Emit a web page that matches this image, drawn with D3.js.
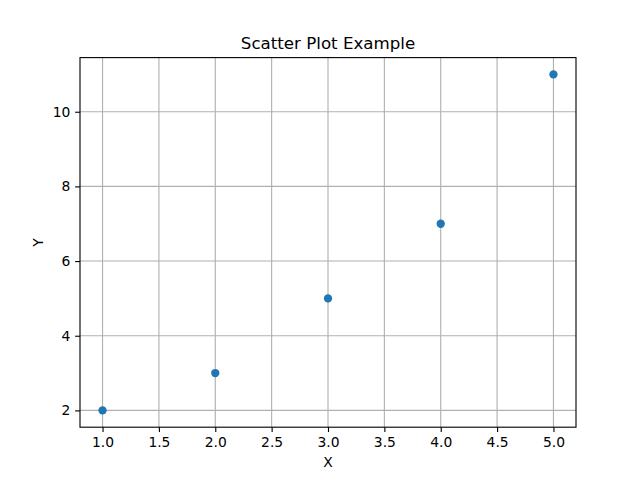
<!DOCTYPE html>
<html><head><meta charset="utf-8">
<script src="https://cdn.jsdelivr.net/npm/d3@7"></script>
<style>body{margin:0;background:#fff}text{font-family:"DejaVu Sans",sans-serif;fill:#000}</style>
</head><body><svg id="c" width="640" height="480"></svg>
<script>
const xValues = [1, 2, 3, 4, 5];
const yValues = [2, 3, 5, 7, 11];
const xTicks = [1.0, 1.5, 2.0, 2.5, 3.0, 3.5, 4.0, 4.5, 5.0];
const yTicks = [2, 4, 6, 8, 10];
const title = "Scatter Plot Example";
const xLabel = "X", yLabel = "Y";

const svg = d3.select("#c");
const L = 80, R = 576, T = 57.6, B = 427.2;
const pt = 100/72;
const x = d3.scaleLinear().domain([0.8, 5.2]).range([L, R]);
const y = d3.scaleLinear().domain([1.55, 11.45]).range([B, T]);
svg.append("rect").attr("width",640).attr("height",480).attr("fill","#fff");

const grid = svg.append("g").attr("stroke","#b0b0b0").attr("stroke-width",0.8*pt);
xTicks.forEach(t=>grid.append("line").attr("x1",x(t)).attr("x2",x(t)).attr("y1",T).attr("y2",B));
yTicks.forEach(t=>grid.append("line").attr("y1",y(t)).attr("y2",y(t)).attr("x1",L).attr("x2",R));

const pts = svg.append("g");
pts.selectAll("circle").data(xValues.map((v,i)=>[v,yValues[i]])).enter().append("circle")
  .attr("cx",d=>x(d[0])).attr("cy",d=>y(d[1])).attr("r",3*pt).attr("fill","#1f77b4");

const xa = d3.axisBottom(x).tickValues(xTicks).tickFormat(d3.format(".1f")).tickSizeInner(3.5*pt).tickSizeOuter(0).tickPadding(3.5*pt);
const ya = d3.axisLeft(y).tickValues(yTicks).tickFormat(d3.format("d")).tickSizeInner(3.5*pt).tickSizeOuter(0).tickPadding(3.5*pt);
const gx = svg.append("g").attr("transform",`translate(0,${B})`).call(xa);
const gy = svg.append("g").attr("transform",`translate(${L},0)`).call(ya);
[gx,gy].forEach(g=>{
  g.select(".domain").remove();
  g.selectAll("line").attr("stroke","#000").attr("stroke-width",0.8*pt);
  g.selectAll("text").attr("font-size",(10*pt)+"px").attr("font-family","DejaVu Sans").attr("fill","#000");
});

svg.append("rect").attr("x",L).attr("y",T).attr("width",R-L).attr("height",B-T)
  .attr("fill","none").attr("stroke","#000").attr("stroke-width",0.8*pt);

svg.append("text").attr("x",(L+R)/2).attr("y",T-6*pt).attr("text-anchor","middle").attr("font-size",(12*pt)+"px").text(title);
svg.append("text").attr("x",(L+R)/2).attr("y",467).attr("text-anchor","middle").attr("font-size",(10*pt)+"px").text(xLabel);
svg.append("text").attr("transform",`translate(43,${(T+B)/2}) rotate(-90)`).attr("text-anchor","middle").attr("font-size",(10*pt)+"px").text(yLabel);
</script></body></html>
